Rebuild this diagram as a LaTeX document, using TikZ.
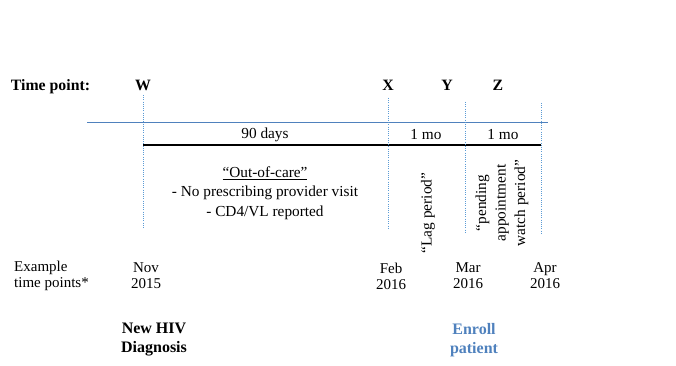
\documentclass[tikz,border=0pt]{standalone}
\usepackage{fontspec}
\setmainfont{Liberation Serif}
\usetikzlibrary{positioning}
\definecolor{lineblue}{RGB}{79,129,189}
\definecolor{dotblue}{RGB}{91,155,213}
\tikzset{txt/.style={inner sep=0pt,font=\fontsize{15.3}{19.5}\selectfont,align=center}}
\tikzset{point/.style={txt,font=\fontsize{15.8}{19}\selectfont\bfseries}}
\tikzset{date/.style={txt,font=\fontsize{15}{16}\selectfont}}
\tikzset{event/.style={txt,font=\fontsize{16}{19}\selectfont\bfseries}}
\tikzset{marker/.style={draw=dotblue,line width=0.8pt,dash pattern=on 1pt off 1.2pt}}

\begin{document}
\begin{tikzpicture}[x=1pt,y=-1pt]
    \useasboundingbox (0,0) rectangle (676,366);

    \node[point] (tp) at (50.5,87) {Time point:};
    \node[point] (W) at (143,85) {W};
    \node[point] (X) at (388,85) {X};
    \node[point] (Y) at (447,85) {Y};
    \node[point] (Z) at (498,85) {Z};

%   timeline
    \coordinate (tl-left) at (87,122);
    \coordinate (tl-right) at (548,122);
        \draw[lineblue,line width=0.8pt] (tl-left) -- (tl-right);
    \coordinate (span-start) at (143,145);
    \coordinate (span-end) at (541,145);
        \draw[line width=1.5pt] (span-start) -- (span-end);

%   markers
    \coordinate (w-top) at (143,95);   \coordinate (w-bot) at (143,228);
    \coordinate (x-top) at (388,98);   \coordinate (x-bot) at (388,228);
    \coordinate (y-top) at (465,102);  \coordinate (y-bot) at (465,232);
    \coordinate (z-top) at (541,103);  \coordinate (z-bot) at (541,233);
        \path[marker] (w-top) -- (w-bot);
        \path[marker] (x-top) -- (x-bot);
        \path[marker] (y-top) -- (y-bot);
        \path[marker] (z-top) -- (z-bot);

    \node[txt] (days) at (265,135) {90 days};
    \node[txt] (mo1) at (426,135) {1 mo};
    \node[txt] (mo2) at (503,135) {1 mo};

    \node[txt] (ooc) at (265,193) {\underline{“Out-of-care”}\\- No prescribing provider visit\\- CD4/VL reported};
    \node[txt,rotate=90] (lag) at (428,213) {“Lag period”};
    \node[txt,rotate=90] (pend) at (502,203) {“pending\\appointment\\watch period”};

%   example dates
    \node[date,align=left,anchor=west] (ex) at (14,276) {Example\\time points*};
    \node[date] (nov) at (146,276) {Nov\\2015};
    \node[date] (feb) at (391,276) {Feb\\2016};
    \node[date] (mar) at (468,276) {Mar\\2016};
    \node[date] (apr) at (545,276) {Apr\\2016};

    \node[event] (dx) at (154,340) {New HIV\\Diagnosis};
    \node[event,text=lineblue] (enroll) at (474,340) {Enroll\\patient};
\end{tikzpicture}
\end{document}
